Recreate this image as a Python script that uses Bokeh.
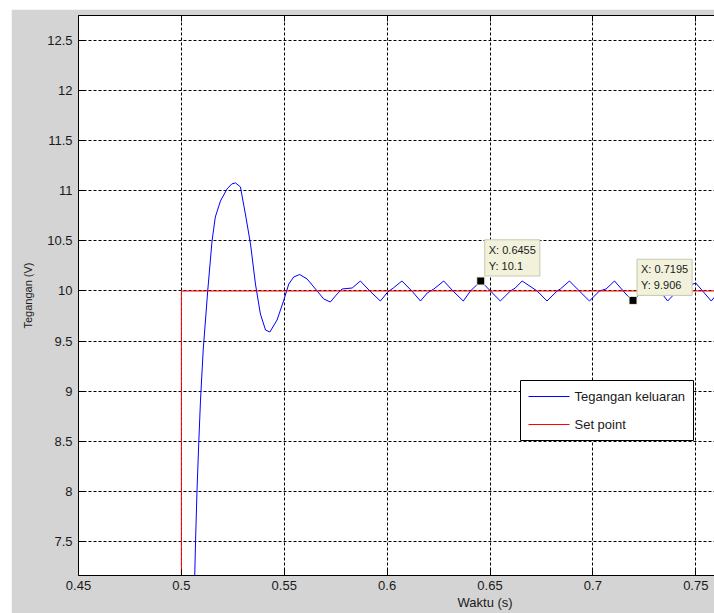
from bokeh.plotting import figure
from bokeh.models import (Range1d, FixedTicker, LinearAxis, Label, Title, Spacer)
from bokeh.layouts import column, row
from bokeh.embed import file_html
from bokeh.resources import INLINE

FONT = "Liberation Sans"

# Output voltage (V) vs time (s)
time_s = [0.5061, 0.5065, 0.5069, 0.5076, 0.5085, 0.5093, 0.5106, 0.5128, 0.5149,
          0.5165, 0.5190, 0.5222, 0.5245, 0.5263, 0.5287, 0.5311, 0.5336, 0.5360,
          0.5384, 0.5409, 0.5430, 0.5465, 0.5498, 0.5522, 0.5546, 0.5575, 0.5611,
          0.5660, 0.5692, 0.5724, 0.5757, 0.5781, 0.5830, 0.5870, 0.5916, 0.5967,
          0.6003, 0.6030, 0.6072, 0.6120, 0.6162, 0.6195, 0.6227, 0.6275, 0.6320,
          0.6370, 0.6405, 0.6455, 0.6502, 0.6550, 0.6599, 0.6623, 0.6656, 0.6729,
          0.6777, 0.6826, 0.6842, 0.6886, 0.6910, 0.6983, 0.7032, 0.7064, 0.7105,
          0.7169, 0.7195, 0.7240, 0.7265, 0.7295, 0.7330, 0.7363, 0.7410, 0.7440,
          0.7500, 0.7575, 0.7600]
voltage = [6.90, 7.16, 7.51, 8.01, 8.51, 8.91, 9.41, 10.00, 10.50,
           10.74, 10.90, 11.02, 11.07, 11.08, 11.04, 10.77, 10.47, 10.07,
           9.77, 9.61, 9.59, 9.71, 9.91, 10.07, 10.14, 10.165, 10.12,
           10.00, 9.92, 9.89, 9.97, 10.02, 10.03, 10.10, 10.00, 9.90,
           9.99, 10.03, 10.10, 10.00, 9.90, 9.98, 10.02, 10.10, 10.00,
           9.90, 10.00, 10.10, 10.00, 9.90, 10.00, 10.03, 10.10, 10.00,
           9.90, 10.00, 10.02, 10.10, 10.05, 9.90, 10.00, 10.02, 10.10,
           9.95, 9.906, 9.99, 10.02, 10.10, 9.99, 9.90, 10.00, 10.03,
           10.08, 9.90, 9.96]

# Set point step
setpoint_t = [0.45, 0.50, 0.50, 0.80]
setpoint_v = [0.0, 0.0, 10.0, 10.0]

# Data tips
tip_x = [0.6455, 0.7195]
tip_y = [10.1, 9.906]

series_names = ["Tegangan keluaran", "Set point"]
series_colors = ["#0000ff", "#ff0000"]

x_ticks = [0.45, 0.5, 0.55, 0.6, 0.65, 0.7, 0.75]
x_tick_labels = ["0.45", "0.5", "0.55", "0.6", "0.65", "0.7", "0.75"]
y_ticks = [7.5, 8.0, 8.5, 9.0, 9.5, 10.0, 10.5, 11.0, 11.5, 12.0, 12.5]
y_tick_labels = ["7.5", "8", "8.5", "9", "9.5", "10", "10.5", "11", "11.5", "12", "12.5"]

# Axis limits and plot-frame geometry (pixels on the page)
X0, X1 = 0.45, 0.7591
Y0, Y1 = 7.157, 12.753
FRAME_L, FRAME_T, FRAME_W, FRAME_H = 78, 15, 636, 560


def xd(px):
    """Page pixel column -> time value."""
    return X0 + (px - FRAME_L) * (X1 - X0) / FRAME_W


def yd(py):
    """Page pixel row -> voltage value."""
    return Y1 - (py - FRAME_T) * (Y1 - Y0) / FRAME_H


p = figure(width=703, height=604, output_backend="svg", toolbar_location=None,
           x_range=Range1d(X0, X1), y_range=Range1d(Y0, Y1),
           min_border_left=67, min_border_right=0, min_border_top=6,
           min_border_bottom=38, background_fill_color="white",
           border_fill_color="#d4d4d4", outline_line_color=None)

for ax, ticks, labels in ((p.xaxis[0], x_ticks, x_tick_labels),
                          (p.yaxis[0], y_ticks, y_tick_labels)):
    ax.ticker = FixedTicker(ticks=ticks)
    ax.major_label_overrides = {t: l for t, l in zip(ticks, labels)}
    ax.major_tick_in = 6
    ax.major_tick_out = 0
    ax.minor_tick_line_color = None
    ax.axis_line_color = "black"
    ax.major_tick_line_color = "black"
    ax.major_label_text_font = FONT
    ax.major_label_text_font_size = "13px"
    ax.major_label_text_color = "#1a1a1a"

p.xaxis.major_label_standoff = 5
p.yaxis.major_label_standoff = 6
p.yaxis.axis_label = "Tegangan (V)"
p.yaxis.axis_label_text_font = FONT
p.yaxis.axis_label_text_font_size = "11px"
p.yaxis.axis_label_text_font_style = "normal"
p.yaxis.axis_label_text_color = "#1a1a1a"
p.yaxis.axis_label_standoff = 10

# Box edge along the top with inward ticks, no labels
top_axis = LinearAxis(ticker=FixedTicker(ticks=x_ticks), major_tick_in=6,
                      major_tick_out=0, minor_tick_line_color=None,
                      major_label_text_color=None, major_label_text_font_size="0px",
                      major_label_standoff=0, axis_line_color="black")
p.add_layout(top_axis, "above")

# x-axis title, sitting under the tick labels
p.add_layout(Title(text="Waktu (s)", align="left", offset=379, standoff=0,
                   text_font=FONT, text_font_size="13px", text_font_style="normal",
                   text_color="#1a1a1a"), "below")

for g in (p.xgrid[0], p.ygrid[0]):
    g.grid_line_color = "black"
    g.grid_line_dash = "3 2"
    g.grid_line_width = 1

p.line(time_s, voltage, line_color=series_colors[0], line_width=1)
p.line(setpoint_t, setpoint_v, line_color=series_colors[1], line_width=1)

# Legend box
p.quad(left=xd(520), right=xd(693), top=yd(380), bottom=yd(440),
       fill_color="white", line_color="black", line_width=1)
for i, (name, col) in enumerate(zip(series_names, series_colors)):
    row_y = yd(396 + 28 * i)
    p.segment(x0=xd(528), x1=xd(569), y0=row_y, y1=row_y, line_color=col,
              line_width=1)
    p.add_layout(Label(x=xd(574), y=row_y, text=name, text_font=FONT,
                       text_font_size="13px", text_color="#1a1a1a",
                       text_align="left", text_baseline="middle"))

# Data tips
p.scatter(tip_x, tip_y, marker="square", size=8, fill_color="black",
          line_color="#f0f0d8", line_width=1)
for tx, ty in zip(tip_x, tip_y):
    p.add_layout(Label(x=tx, y=ty, x_offset=4, y_offset=5,
                       text=f"X: {tx}\nY: {ty}", text_font=FONT,
                       text_font_size="11px", text_color="#1a1a1a",
                       text_line_height=1.35,
                       text_align="left", text_baseline="bottom",
                       background_fill_color="#f2f2dc",
                       border_line_color="#c8c8b0", padding=4))

page = column(Spacer(width=714, height=9),
              row(Spacer(width=11, height=604), p))

open("out.html", "w").write(file_html(page, INLINE))
